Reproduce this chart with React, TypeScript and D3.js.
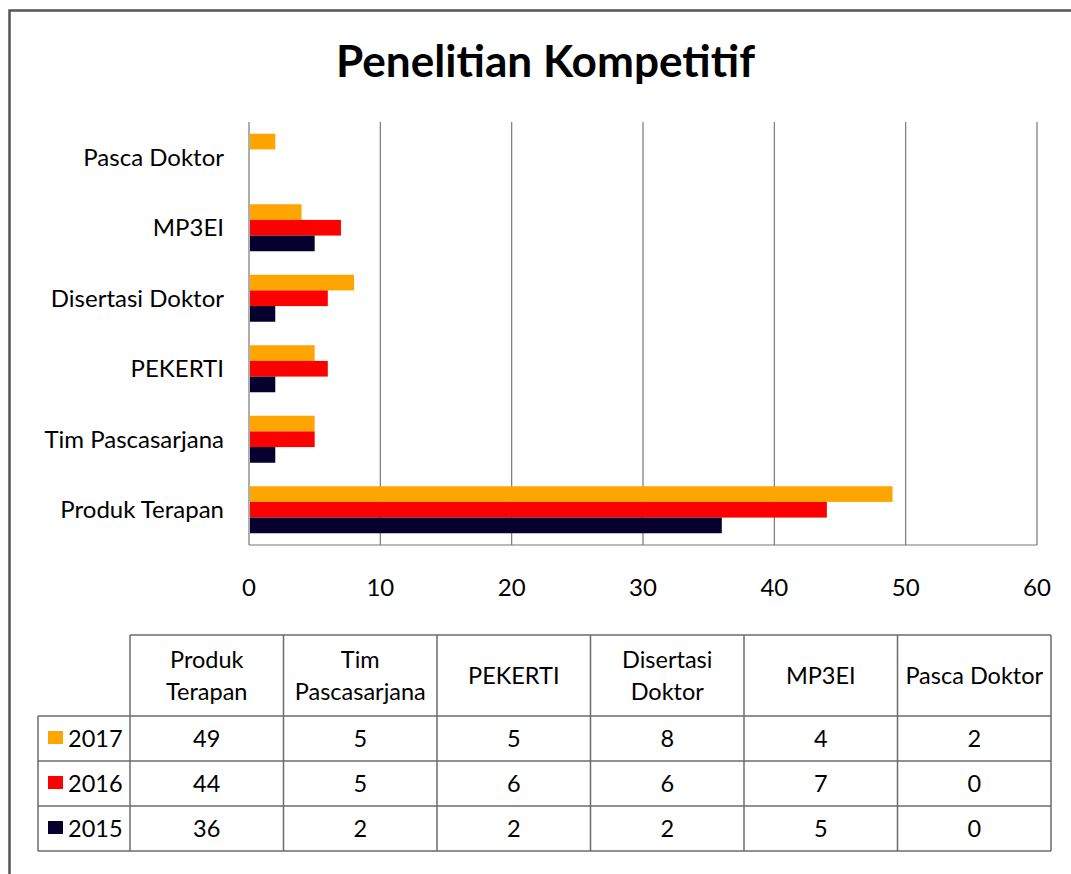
import React from "react";
import * as d3 from "d3";

const categories = ["Produk Terapan", "Tim Pascasarjana", "PEKERTI", "Disertasi Doktor", "MP3EI", "Pasca Doktor"];
const headerLines = [["Produk", "Terapan"], ["Tim", "Pascasarjana"], ["PEKERTI"], ["Disertasi", "Doktor"], ["MP3EI"], ["Pasca Doktor"]];
const seriesNames = ["2017", "2016", "2015"];
const values2017 = [49, 5, 5, 8, 4, 2];
const values2016 = [44, 5, 6, 6, 7, 0];
const values2015 = [36, 2, 2, 2, 5, 0];
const seriesColors = ["#FFA500", "#FF0000", "#05002E"];
const xTicks = [0, 10, 20, 30, 40, 50, 60];

const FONT = "Lato, 'Open Sans', sans-serif";
const FS = 24;

export default function App() {
  const W = 1071, H = 874;
  const seriesValues = [values2017, values2016, values2015];
  const x = d3.scaleLinear().domain([0, 60]).range([249, 1037]);
  const y = d3.scaleBand<string>()
    .domain([...categories].reverse())
    .range([122, 545])
    .paddingInner(1 / 3)
    .paddingOuter(1 / 6);
  const ySub = d3.scaleBand<string>().domain(seriesNames).range([0, y.bandwidth()]);

  const tx = d3.scaleBand<string>().domain(categories).range([130, 1051]);
  const tableTop = 635, headerBottom = 716, rowH = 45;
  const rowY = (i: number) => headerBottom + i * rowH;
  const tableBottom = rowY(3);
  const lineColor = "#6b6b6b";

  return (
    <svg width={W} height={H} style={{ display: "block", position: "absolute", left: 0, top: 0 }}>
      <rect x={0} y={0} width={W} height={H} fill="#fff" />
      {/* outer frame */}
      <path d={`M9.5,${H + 5} L9.5,10.5 L${W + 5},10.5`} fill="none" stroke="#555" strokeWidth={2.5} />
      <text x={545.5} y={77} textAnchor="middle" fontFamily={FONT} fontWeight="bold" fontSize={43} fill="#000"
        textLength={419} lengthAdjust="spacingAndGlyphs">
        Penelitian Kompetitif
      </text>
      {/* gridlines */}
      {xTicks.map((t) => (
        <line key={t} x1={x(t)} x2={x(t)} y1={122} y2={545} stroke="#777" strokeWidth={1.2} />
      ))}
      <line x1={x(0)} x2={x(60)} y1={545} y2={545} stroke="#777" strokeWidth={1.2} />
      {/* bars */}
      {categories.map((c, ci) =>
        seriesNames.map((s, si) => {
          const v = seriesValues[si][ci];
          if (v <= 0) return null;
          return (
            <rect
              key={c + s}
              x={x(0) + 1}
              y={(y(c) as number) + (ySub(s) as number)}
              width={x(v) - x(0) - 1}
              height={ySub.bandwidth()}
              fill={seriesColors[si]}
            />
          );
        })
      )}
      {/* category labels */}
      {categories.map((c) => (
        <text key={c} x={224} y={(y(c) as number) + y.bandwidth() / 2 + 8.5} textAnchor="end" fontFamily={FONT} fontSize={FS} fill="#000">
          {c}
        </text>
      ))}
      {/* tick labels */}
      {xTicks.map((t) => (
        <text key={t} x={x(t)} y={596} textAnchor="middle" fontFamily={FONT} fontSize={FS} fill="#000">
          {t}
        </text>
      ))}
      {/* table */}
      <g fill="none" stroke={lineColor} strokeWidth={1.5}>
        <line x1={130} x2={1051} y1={tableTop} y2={tableTop} />
        {[0, 1, 2, 3].map((i) => (
          <line key={i} x1={38} x2={1051} y1={rowY(i)} y2={rowY(i)} />
        ))}
        <line x1={38} x2={38} y1={headerBottom} y2={tableBottom} />
        {categories.map((c) => (
          <line key={c} x1={tx(c)} x2={tx(c)} y1={tableTop} y2={tableBottom} />
        ))}
        <line x1={1051} x2={1051} y1={tableTop} y2={tableBottom} />
      </g>
      {categories.map((c, ci) => {
        const cx = (tx(c) as number) + tx.bandwidth() / 2;
        const lines = headerLines[ci];
        return (
          <text key={c} textAnchor="middle" fontFamily={FONT} fontSize={23.5} fill="#000">
            {lines.length === 2 ? (
              <>
                <tspan x={cx} y={668}>{lines[0]}</tspan>
                <tspan x={cx} y={700}>{lines[1]}</tspan>
              </>
            ) : (
              <tspan x={cx} y={684}>{lines[0]}</tspan>
            )}
          </text>
        );
      })}
      {seriesNames.map((s, si) => (
        <g key={s}>
          <rect x={48} y={rowY(si) + 15} width={15} height={13} fill={seriesColors[si]} />
          <text x={68} y={rowY(si) + 31} fontFamily={FONT} fontSize={23.5} fill="#000">{s}</text>
          {categories.map((c, ci) => (
            <text key={c} x={(tx(c) as number) + tx.bandwidth() / 2} y={rowY(si) + 31} textAnchor="middle" fontFamily={FONT} fontSize={23.5} fill="#000">
              {seriesValues[si][ci]}
            </text>
          ))}
        </g>
      ))}
    </svg>
  );
}
